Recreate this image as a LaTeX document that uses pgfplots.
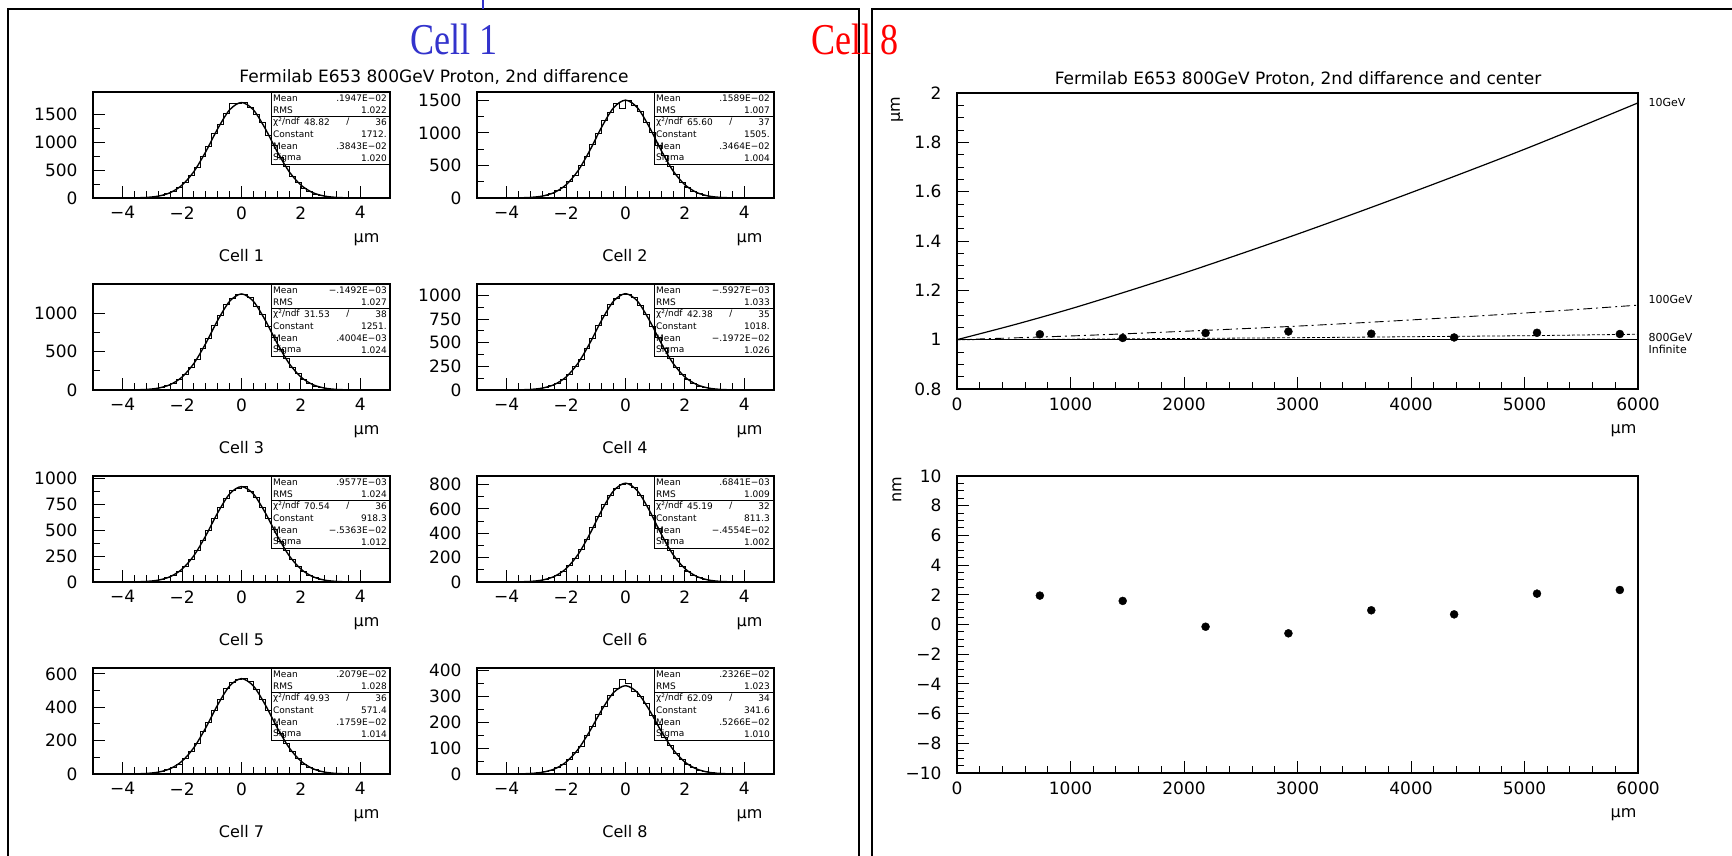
\documentclass[border=0pt]{standalone}
\usepackage{fontspec}
\setmainfont{DejaVu Sans}
\newfontfamily\serif{Liberation Serif}
\usepackage{pgfplots}
\pgfplotsset{compat=1.18}

\pgfplotsset{
  paw/.style={scale only axis, anchor=south west,
    axis line style={line width=1.3pt}, tick align=inside,
    xtick pos=left, ytick pos=left, tick style={black, line width=1pt},
    major tick length=12pt, minor tick length=7pt,
    tick label style={font=\fontsize{17}{17}\selectfont},
    yticklabel style={xshift=-12pt}, xticklabel style={yshift=-5pt}},
  hist/.style={paw, width=297pt, height=106pt, xmin=-5, xmax=5, ymin=0,
    xtick={-4,-2,0,2,4}, xticklabels={−4,−2,0,2,4}, minor x tick num=4,
    minor y tick num=1},
  histo/.style={const plot, black, line width=0.8pt},
  fit/.style={smooth, black, line width=1.4pt},
}

% stats box: right x, top y, mean, rms, chi2, ndf, constant, mean, sigma
\newcommand\stats[9]{%
\begin{scope}[shift={(#1,#2)}, font=\fontsize{9}{9}\selectfont]
\draw[line width=0.8pt] (-119pt,0pt) rectangle (0pt,-72pt);
\draw[line width=0.8pt] (-119pt,-24pt) -- (0pt,-24pt);
\node[anchor=west,inner sep=0] at (-117pt,-6pt) {Mean};
\node[anchor=east,inner sep=0] at (-3pt,-6pt) {#3};
\node[anchor=west,inner sep=0] at (-117pt,-18pt) {RMS};
\node[anchor=east,inner sep=0] at (-3pt,-18pt) {#4};
\node[anchor=west,inner sep=0] at (-117pt,-30pt) {χ²/ndf};
\node[anchor=east,inner sep=0] at (-60pt,-30pt) {#5};
\node[inner sep=0] at (-42pt,-30pt) {/};
\node[anchor=east,inner sep=0] at (-3pt,-30pt) {#6};
\node[anchor=west,inner sep=0] at (-117pt,-42pt) {Constant};
\node[anchor=east,inner sep=0] at (-3pt,-42pt) {#7};
\node[anchor=west,inner sep=0] at (-117pt,-54pt) {Mean};
\node[anchor=east,inner sep=0] at (-3pt,-54pt) {#8};
\node[anchor=west,inner sep=0] at (-117pt,-66pt) {Sigma};
\node[anchor=east,inner sep=0] at (-3pt,-66pt) {#9};
\end{scope}}

% cell caption: centre x, right x, bottom y, number
\newcommand\cellcap[4]{%
\node[font=\fontsize{16}{16}\selectfont] at (#1,#3-58pt) {Cell #4};
\node[anchor=east,font=\fontsize{16}{16}\selectfont] at (#2-7pt,#3-42pt) {μm};}

\begin{document}
\begin{tikzpicture}
\path[use as bounding box] (0pt,0pt) rectangle (1732pt,-855pt);
\draw[line width=2pt] (8pt,-9pt) rectangle (859pt,-880pt);
\draw[line width=2pt] (872pt,-9pt) rectangle (1750pt,-880pt);
\draw[line width=2pt, color={rgb,255:red,51;green,51;blue,204}] (483pt,0pt) -- (483pt,-9pt);

\node[xscale=0.82, text={rgb,255:red,51;green,51;blue,204}, font=\serif\fontsize{44}{44}\selectfont] at (454pt,-39pt) {Cell 1};
\node[xscale=0.82, text=red, font=\serif\fontsize{44}{44}\selectfont] at (855pt,-39pt) {Cell 8};

\node[font=\fontsize{17}{17}\selectfont] at (434pt,-77pt) {Fermilab E653 800GeV Proton, 2nd diffarence};
\node[font=\fontsize{17}{17}\selectfont] at (1298pt,-79pt) {Fermilab E653 800GeV Proton, 2nd diffarence and center};

% ---- Cell 1
\begin{axis}[hist, at={(93pt,-198pt)}, ymax=1900, ytick={0,500,1000,1500}, yticklabels={0,500,1000,1500}]
\addplot[histo] coordinates {(-4,1) (-3.8,2) (-3.6,4) (-3.4,8) (-3.2,13) (-3,27) (-2.8,42) (-2.6,79) (-2.4,118) (-2.2,195) (-2,275) (-1.8,410) (-1.6,548) (-1.4,745) (-1.2,925) (-1,1160) (-0.8,1325) (-0.6,1525) (-0.4,1690) (-0.2,1690) (0,1720) (0.2,1620) (0.4,1490) (0.6,1355) (0.8,1130) (1,945) (1.2,720) (1.4,565) (1.6,395) (1.8,288) (2,180) (2.2,125) (2.4,72) (2.6,47) (2.8,24) (3,15) (3.2,7) (3.4,3) (3.6,2) (3.8,1) (4,1)};
\addplot[fit] coordinates {(-3.6,2.6) (-3.2,10.3) (-2.8,33.9) (-2.4,96.0) (-2,231.6) (-1.6,475.9) (-1.2,833.4) (-0.8,1243.1) (-0.4,1580.3) (0,1712) (0.4,1580.3) (0.8,1243.1) (1.2,833.4) (1.6,475.9) (2,231.6) (2.4,96.0) (2.8,33.9) (3.2,10.3) (3.6,2.6)};
\end{axis}
\stats{390pt}{-92pt}{.1947E−02}{1.022}{48.82}{36}{1712.}{.3843E−02}{1.020}
\cellcap{241.5pt}{390pt}{-198pt}{1}

% ---- Cell 2
\begin{axis}[hist, at={(477pt,-198pt)}, ymax=1630, ytick={0,500,1000,1500}, yticklabels={0,500,1000,1500}]
\addplot[histo] coordinates {(-4,1) (-3.8,2) (-3.6,3) (-3.4,7) (-3.2,12) (-3,21) (-2.8,41) (-2.6,64) (-2.4,110) (-2.2,160) (-2,252) (-1.8,348) (-1.6,500) (-1.4,640) (-1.2,830) (-1,990) (-0.8,1190) (-0.6,1320) (-0.4,1450) (-0.2,1380) (0,1505) (0.2,1430) (0.4,1335) (0.6,1165) (0.8,1015) (1,815) (1.2,655) (1.4,480) (1.6,360) (1.8,240) (2,170) (2.2,104) (2.4,68) (2.6,38) (2.8,23) (3,12) (3.2,6) (3.4,3) (3.6,2) (3.8,1) (4,1)};
\addplot[fit] coordinates {(-3.6,2.3) (-3.2,9.0) (-2.8,29.8) (-2.4,84.4) (-2,203.6) (-1.6,418.4) (-1.2,732.6) (-0.8,1092.8) (-0.4,1389.3) (0,1505) (0.4,1389.3) (0.8,1092.8) (1.2,732.6) (1.6,418.4) (2,203.6) (2.4,84.4) (2.8,29.8) (3.2,9.0) (3.6,2.3)};
\end{axis}
\stats{773pt}{-92pt}{.1589E−02}{1.007}{65.60}{37}{1505.}{.3464E−02}{1.004}
\cellcap{625pt}{773pt}{-198pt}{2}

% ---- Cell 3
\begin{axis}[hist, at={(93pt,-390pt)}, ymax=1380, ytick={0,500,1000}, yticklabels={0,500,1000}]
\addplot[histo] coordinates {(-4,0) (-3.8,1) (-3.6,3) (-3.4,5) (-3.2,10) (-3,19) (-2.8,33) (-2.6,56) (-2.4,86) (-2.2,140) (-2,203) (-1.8,298) (-1.6,400) (-1.4,545) (-1.2,675) (-1,840) (-0.8,975) (-0.6,1110) (-0.4,1190) (-0.2,1240) (0,1245) (0.2,1200) (0.4,1095) (0.6,985) (0.8,830) (1,690) (1.2,530) (1.4,410) (1.6,290) (1.8,210) (2,135) (2.2,92) (2.4,53) (2.6,34) (2.8,18) (3,10) (3.2,5) (3.4,3) (3.6,1) (3.8,1) (4,1)};
\addplot[fit] coordinates {(-3.6,1.9) (-3.2,7.5) (-2.8,24.8) (-2.4,70.2) (-2,169.3) (-1.6,347.8) (-1.2,609.0) (-0.8,908.4) (-0.4,1154.8) (0,1251) (0.4,1154.8) (0.8,908.4) (1.2,609.0) (1.6,347.8) (2,169.3) (2.4,70.2) (2.8,24.8) (3.2,7.5) (3.6,1.9)};
\end{axis}
\stats{390pt}{-284pt}{−.1492E−03}{1.027}{31.53}{38}{1251.}{.4004E−03}{1.024}
\cellcap{241.5pt}{390pt}{-390pt}{3}

% ---- Cell 4
\begin{axis}[hist, at={(477pt,-390pt)}, ymax=1120, ytick={0,250,500,750,1000}, yticklabels={0,250,500,750,1000}]
\addplot[histo] coordinates {(-4,0) (-3.8,1) (-3.6,2) (-3.4,4) (-3.2,8) (-3,16) (-2.8,27) (-2.6,45) (-2.4,70) (-2.2,115) (-2,165) (-1.8,245) (-1.6,325) (-1.4,440) (-1.2,550) (-1,685) (-0.8,790) (-0.6,905) (-0.4,965) (-0.2,1010) (0,1015) (0.2,980) (0.4,890) (0.6,800) (0.8,675) (1,560) (1.2,435) (1.4,335) (1.6,235) (1.8,170) (2,110) (2.2,74) (2.4,43) (2.6,27) (2.8,15) (3,8) (3.2,4) (3.4,2) (3.6,1) (3.8,0) (4,0)};
\addplot[fit] coordinates {(-3.6,1.5) (-3.2,6.1) (-2.8,20.2) (-2.4,57.1) (-2,137.7) (-1.6,283.0) (-1.2,495.6) (-0.8,739.2) (-0.4,939.7) (0,1018) (0.4,939.7) (0.8,739.2) (1.2,495.6) (1.6,283.0) (2,137.7) (2.4,57.1) (2.8,20.2) (3.2,6.1) (3.6,1.5)};
\end{axis}
\stats{773pt}{-284pt}{−.5927E−03}{1.033}{42.38}{35}{1018.}{−.1972E−02}{1.026}
\cellcap{625pt}{773pt}{-390pt}{4}

% ---- Cell 5
\begin{axis}[hist, at={(93pt,-582pt)}, ymax=1020, ytick={0,250,500,750,1000}, yticklabels={0,250,500,750,1000}]
\addplot[histo] coordinates {(-4,0) (-3.8,1) (-3.6,2) (-3.4,4) (-3.2,8) (-3,14) (-2.8,25) (-2.6,41) (-2.4,66) (-2.2,100) (-2,152) (-1.8,215) (-1.6,300) (-1.4,398) (-1.2,500) (-1,615) (-0.8,720) (-0.6,805) (-0.4,880) (-0.2,905) (0,918) (0.2,875) (0.4,815) (0.6,715) (0.8,610) (1,505) (1.2,390) (1.4,300) (1.6,218) (1.8,148) (2,102) (2.2,64) (2.4,40) (2.6,24) (2.8,13) (3,7) (3.2,4) (3.4,2) (3.6,1) (3.8,0) (4,0)};
\addplot[fit] coordinates {(-3.6,1.4) (-3.2,5.5) (-2.8,18.2) (-2.4,51.5) (-2,124.2) (-1.6,255.3) (-1.2,447.0) (-0.8,666.8) (-0.4,847.7) (0,918.3) (0.4,847.7) (0.8,666.8) (1.2,447.0) (1.6,255.3) (2,124.2) (2.4,51.5) (2.8,18.2) (3.2,5.5) (3.6,1.4)};
\end{axis}
\stats{390pt}{-476pt}{.9577E−03}{1.024}{70.54}{36}{918.3}{−.5363E−02}{1.012}
\cellcap{241.5pt}{390pt}{-582pt}{5}

% ---- Cell 6
\begin{axis}[hist, at={(477pt,-582pt)}, ymax=870, ytick={0,200,400,600,800}, yticklabels={0,200,400,600,800}]
\addplot[histo] coordinates {(-4,0) (-3.8,1) (-3.6,2) (-3.4,3) (-3.2,7) (-3,12) (-2.8,22) (-2.6,36) (-2.4,58) (-2.2,90) (-2,135) (-1.8,190) (-1.6,265) (-1.4,350) (-1.2,445) (-1,540) (-0.8,635) (-0.6,715) (-0.4,770) (-0.2,805) (0,810) (0.2,780) (0.4,715) (0.6,632) (0.8,545) (1,440) (1.2,350) (1.4,262) (1.6,192) (1.8,132) (2,90) (2.2,57) (2.4,36) (2.6,21) (2.8,12) (3,7) (3.2,3) (3.4,2) (3.6,1) (3.8,0) (4,0)};
\addplot[fit] coordinates {(-3.6,1.2) (-3.2,4.9) (-2.8,16.1) (-2.4,45.5) (-2,109.8) (-1.6,225.5) (-1.2,394.9) (-0.8,589.1) (-0.4,748.9) (0,811.3) (0.4,748.9) (0.8,589.1) (1.2,394.9) (1.6,225.5) (2,109.8) (2.4,45.5) (2.8,16.1) (3.2,4.9) (3.6,1.2)};
\end{axis}
\stats{773pt}{-476pt}{.6841E−03}{1.009}{45.19}{32}{811.3}{−.4554E−02}{1.002}
\cellcap{625pt}{773pt}{-582pt}{6}

% ---- Cell 7
\begin{axis}[hist, at={(93pt,-774pt)}, ymax=635, ytick={0,200,400,600}, yticklabels={0,200,400,600}]
\addplot[histo] coordinates {(-4,0) (-3.8,1) (-3.6,1) (-3.4,2) (-3.2,5) (-3,9) (-2.8,15) (-2.6,25) (-2.4,41) (-2.2,58) (-2,94) (-1.8,135) (-1.6,186) (-1.4,255) (-1.2,312) (-1,381) (-0.8,447) (-0.6,510) (-0.4,546) (-0.2,568) (0,570) (0.2,552) (0.4,505) (0.6,445) (0.8,380) (1,300) (1.2,245) (1.4,186) (1.6,135) (1.8,94) (2,58) (2.2,41) (2.4,25) (2.6,15) (2.8,9) (3,5) (3.2,2) (3.4,1) (3.6,1) (3.8,0) (4,0)};
\addplot[fit] coordinates {(-3.6,0.9) (-3.2,3.4) (-2.8,11.3) (-2.4,32.1) (-2,77.3) (-1.6,158.8) (-1.2,278.2) (-0.8,414.9) (-0.4,527.5) (0,571.4) (0.4,527.5) (0.8,414.9) (1.2,278.2) (1.6,158.8) (2,77.3) (2.4,32.1) (2.8,11.3) (3.2,3.4) (3.6,0.9)};
\end{axis}
\stats{390pt}{-668pt}{.2079E−02}{1.028}{49.93}{36}{571.4}{.1759E−02}{1.014}
\cellcap{241.5pt}{390pt}{-774pt}{7}

% ---- Cell 8
\begin{axis}[hist, at={(477pt,-774pt)}, ymax=410, ytick={0,100,200,300,400}, yticklabels={0,100,200,300,400}]
\addplot[histo] coordinates {(-4,0) (-3.8,0) (-3.6,1) (-3.4,2) (-3.2,3) (-3,5) (-2.8,9) (-2.6,15) (-2.4,24) (-2.2,38) (-2,56) (-1.8,82) (-1.6,108) (-1.4,150) (-1.2,185) (-1,232) (-0.8,262) (-0.6,305) (-0.4,330) (-0.2,365) (0,350) (0.2,318) (0.4,300) (0.6,272) (0.8,225) (1,190) (1.2,142) (1.4,112) (1.6,80) (1.8,55) (2,38) (2.2,24) (2.4,15) (2.6,9) (2.8,5) (3,3) (3.2,1) (3.4,1) (3.6,0) (3.8,0) (4,0)};
\addplot[fit] coordinates {(-3.6,0.5) (-3.2,2.0) (-2.8,6.8) (-2.4,19.2) (-2,46.2) (-1.6,95.0) (-1.2,166.3) (-0.8,248.0) (-0.4,315.3) (0,341.6) (0.4,315.3) (0.8,248.0) (1.2,166.3) (1.6,95.0) (2,46.2) (2.4,19.2) (2.8,6.8) (3.2,2.0) (3.6,0.5)};
\end{axis}
\stats{773pt}{-668pt}{.2326E−02}{1.023}{62.09}{34}{341.6}{.5266E−02}{1.010}
\cellcap{625pt}{773pt}{-774pt}{8}

% ---- right: width vs depth
\begin{axis}[paw, at={(957pt,-389pt)}, width=681pt, height=296pt,
  xmin=0, xmax=6000, ymin=0.8, ymax=2,
  xtick={0,1000,2000,3000,4000,5000,6000}, xticklabels={0,1000,2000,3000,4000,5000,6000},
  minor x tick num=4, ytick={0.8,1,1.2,1.4,1.6,1.8,2}, yticklabels={0.8,1,1.2,1.4,1.6,1.8,2},
  minor y tick num=3]
\addplot[black, line width=1.2pt, smooth] coordinates {(0,1.000) (500,1.060) (1000,1.125) (1500,1.196) (2000,1.270) (2500,1.348) (3000,1.428) (3500,1.511) (4000,1.596) (4500,1.683) (5000,1.772) (5500,1.865) (6000,1.960)};
\addplot[black, line width=0.9pt, smooth, dash pattern=on 9pt off 4pt on 2pt off 4pt] coordinates {(0,1.000) (1000,1.015) (2000,1.034) (3000,1.055) (4000,1.080) (5000,1.108) (6000,1.140)};
\addplot[black, line width=0.8pt, dash pattern=on 3pt off 2pt] coordinates {(0,1.000) (1000,1.002) (2000,1.005) (3000,1.008) (4000,1.012) (5000,1.016) (6000,1.022)};
\addplot[black, line width=0.9pt] coordinates {(0,1) (6000,1)};
\addplot[only marks, mark=*, mark size=4pt, black] coordinates {(730,1.022) (1460,1.007) (2190,1.027) (2920,1.033) (3650,1.024) (4380,1.009) (5110,1.028) (5840,1.023)};
\end{axis}
\node[anchor=west, font=\fontsize{11}{11}\selectfont] at (1645pt,-102pt) {10GeV};
\node[anchor=west, font=\fontsize{11}{11}\selectfont] at (1645pt,-299pt) {100GeV};
\node[anchor=west, font=\fontsize{11}{11}\selectfont] at (1645pt,-337pt) {800GeV};
\node[anchor=west, font=\fontsize{11}{11}\selectfont] at (1645pt,-349pt) {Infinite};
\node[rotate=90, font=\fontsize{16}{16}\selectfont] at (897pt,-110pt) {μm};
\node[anchor=east, font=\fontsize{16}{16}\selectfont] at (1640pt,-431pt) {μm};

% ---- right: centre shift vs depth
\begin{axis}[paw, at={(957pt,-773pt)}, width=681pt, height=297pt,
  xmin=0, xmax=6000, ymin=-10, ymax=10,
  xtick={0,1000,2000,3000,4000,5000,6000}, xticklabels={0,1000,2000,3000,4000,5000,6000},
  minor x tick num=4, ytick={-10,-8,-6,-4,-2,0,2,4,6,8,10},
  yticklabels={−10,−8,−6,−4,−2,0,2,4,6,8,10}, minor y tick num=3]
\addplot[only marks, mark=*, mark size=4pt, black] coordinates {(730,1.947) (1460,1.589) (2190,-0.149) (2920,-0.593) (3650,0.958) (4380,0.684) (5110,2.079) (5840,2.326)};
\end{axis}
\node[rotate=90, font=\fontsize{16}{16}\selectfont] at (897pt,-490pt) {nm};
\node[anchor=east, font=\fontsize{16}{16}\selectfont] at (1640pt,-815pt) {μm};
\end{tikzpicture}
\end{document}
